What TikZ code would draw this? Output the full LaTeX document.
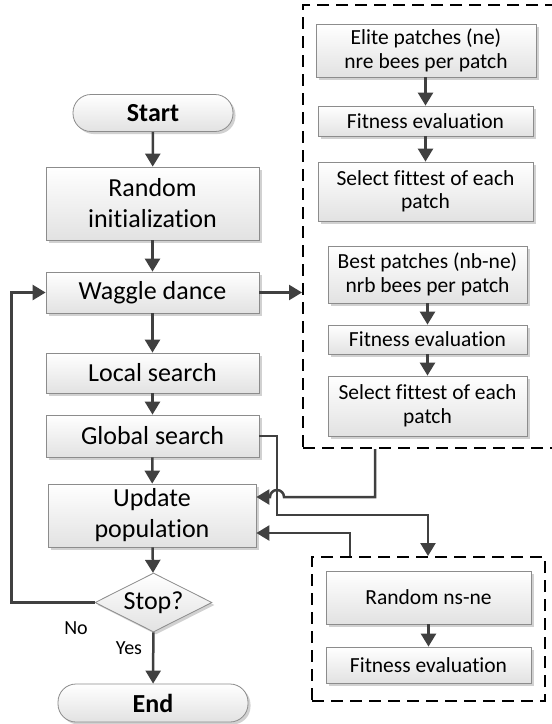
\documentclass[tikz,border=0pt]{standalone}
\usepackage{fontspec}
\setmainfont{Carlito}[Ligatures={NoCommon}]
\usetikzlibrary{arrows.meta,shapes.geometric,shadows,calc}
\definecolor{boxline}{HTML}{8C8C8C}
\definecolor{arrowc}{HTML}{404040}
\definecolor{boxbot}{HTML}{E2E2E2}
\tikzset{
  base/.style={draw=boxline, line width=0.8pt, top color=white, bottom color=boxbot,
    inner sep=0pt, align=center,
    drop shadow={shadow xshift=2.5pt, shadow yshift=-2.5pt, opacity=0.18, fill=black}},
  bigbox/.style={base, font=\fontsize{26}{31}\selectfont},
  smallbox/.style={base, font=\fontsize{21.5}{23.5}\selectfont},
  term/.style={base, rounded corners=18pt, font=\fontsize{26}{31}\selectfont\bfseries},
  decision/.style={bigbox, diamond, shape aspect=2},
  dashbox/.style={draw=black, line width=2pt, dash pattern=on 12pt off 7pt, inner sep=0pt},
  arr/.style={draw=arrowc, line width=2.5pt, -{Triangle[width=15pt,length=13pt]}},
  lbl/.style={font=\fontsize{20}{24}\selectfont, inner sep=0pt},
}
\begin{document}
\begin{tikzpicture}[x=1pt, y=-1pt]
\useasboundingbox (0,0) rectangle (552,724);
% dashed groups
\node[dashbox, minimum width=257pt, minimum height=443pt] (dashA) at (431.5,226.5) {};
\node[dashbox, minimum width=233pt, minimum height=144pt] (dashB) at (428.5,629) {};
% main column
\node[term, minimum width=160pt, minimum height=37pt] (start) at (153,113) {Start};
\node[bigbox, minimum width=213pt, minimum height=73pt] (init) at (152.5,203.5) {Random\\initialization};
\node[bigbox, minimum width=213pt, minimum height=41pt] (waggle) at (152.5,292.5) {Waggle dance};
\node[bigbox, minimum width=213pt, minimum height=40pt] (local) at (152.5,373) {Local search};
\node[bigbox, minimum width=213pt, minimum height=42pt] (global) at (152.5,436) {Global search};
\node[bigbox, minimum width=208pt, minimum height=63pt] (update) at (152,515.5) {Update\\population};
\node[decision, minimum width=117pt, minimum height=59pt] (stop) at (153.5,602.5) {Stop?};
\node[term, minimum width=190pt, minimum height=38pt] (end) at (153,703) {End};
% upper right group
\node[smallbox, minimum width=220pt, minimum height=53pt] (elite) at (426,50.5) {Elite patches (ne)\\nre bees per patch};
\node[smallbox, minimum width=215pt, minimum height=30pt] (fitA) at (425.5,121) {Fitness evaluation};
\node[smallbox, minimum width=215pt, minimum height=59pt] (selA) at (425.5,191.5) {Select fittest of each\\patch};
\node[smallbox, minimum width=199pt, minimum height=57pt] (best) at (427.5,274.5) {Best patches (nb-ne)\\nrb bees per patch};
\node[smallbox, minimum width=199pt, minimum height=29pt] (fitB) at (427.5,339.5) {Fitness evaluation};
\node[smallbox, minimum width=199pt, minimum height=60pt] (selB) at (427.5,406) {Select fittest of each\\patch};
% lower right group
\node[smallbox, minimum width=205pt, minimum height=53pt] (rnd) at (428.5,597.5) {Random ns-ne};
\node[smallbox, minimum width=205pt, minimum height=36pt] (fitC) at (428.5,665) {Fitness evaluation};
% labels
\node[lbl] (no) at (76,628) {No};
\node[lbl] (yes) at (129,648) {Yes};
% main arrows
\draw[arr] (start) -- (init);
\draw[arr] (init) -- (waggle);
\draw[arr] (waggle) -- (local);
\draw[arr] (local) -- (global);
\draw[arr] (global) -- (update);
\draw[arr] (update) -- (stop);
\draw[arr] (stop) -- (end);
\draw[arr] (stop.west) -- ++(-83pt,0) |- (waggle.west);
\draw[arr] (waggle.east) -- (waggle.east -| dashA.west);
% inner arrows
\draw[arr] (elite.south -| fitA.north) -- (fitA.north);
\draw[arr] (fitA) -- (selA);
\draw[arr] (best) -- (fitB);
\draw[arr] (fitB) -- (selB);
\draw[arr] (rnd) -- (fitC);
% cross connections
\coordinate (hop) at (277,497);
\draw[arr] ([xshift=73pt]dashA.south west) |- ([xshift=7pt]hop)
   arc[start angle=0, end angle=180, radius=7pt] -- ([yshift=18.5pt]update.east);
\draw[arr] (global.east) -| (hop) -- (277,515) -| ([xshift=117pt]dashB.north west);
\draw[arr] ([xshift=39pt]dashB.north west) |- ([yshift=-17.5pt]update.east);
\end{tikzpicture}
\end{document}
